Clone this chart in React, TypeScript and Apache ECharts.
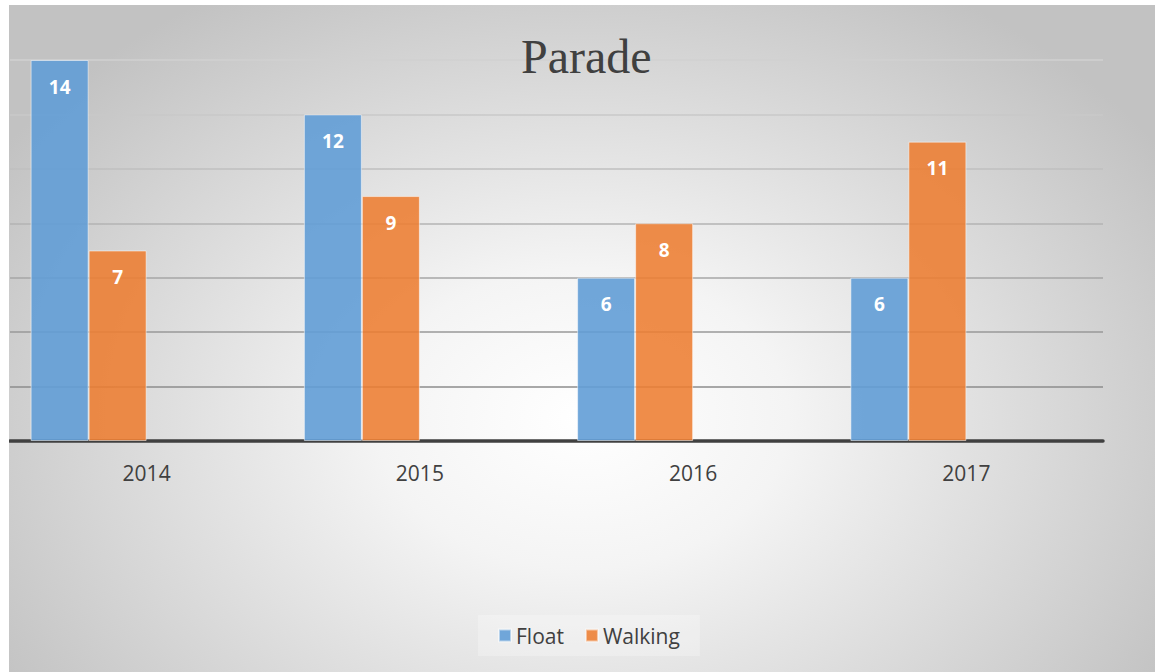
import React, { useEffect, useRef } from "react";
import * as echarts from "echarts";

const categories = ["2014", "2015", "2016", "2017"];
const floatValues = [14, 12, 6, 6];
const walkingValues = [7, 9, 8, 11];
const emptyValues = [null, null, null, null];
const seriesNames = ["Float", "Walking"];
const titleText = "Parade";

export default function App() {
  const ref = useRef<HTMLDivElement>(null);
  useEffect(() => {
    document.body.style.margin = "0";
    const chart = echarts.init(ref.current!, null, { renderer: "svg" });
    const label = {
      show: true,
      position: "insideTop",
      distance: 17,
      color: "#ffffff",
      fontWeight: "bold",
      fontSize: 19,
      fontFamily: "Open Sans",
    };
    chart.setOption({
      animation: false,
      backgroundColor: "transparent",
      title: {
        text: titleText,
        left: 507,
        top: 22,
        padding: 5,
        textStyle: {
          fontFamily: "Liberation Serif",
          fontSize: 48,
          fontWeight: "normal",
          color: "#404040",
        },
      },
      legend: {
        data: seriesNames,
        top: 610,
        left: 469,
        padding: [10, 20],
        backgroundColor: "rgba(255,255,255,0.25)",
        itemWidth: 12,
        itemHeight: 12,
        itemGap: 21,
        icon: "rect",
        textStyle: { fontFamily: "Open Sans", fontSize: 21, color: "#404040" },
      },
      grid: { left: 1, right: 52, top: 55, bottom: 231, containLabel: false },
      xAxis: {
        type: "category",
        data: categories,
        axisLine: { lineStyle: { color: "#404040", width: 3.5 } },
        axisTick: { show: false },
        axisLabel: { color: "#404040", fontSize: 21, fontFamily: "Open Sans", margin: 21 },
      },
      yAxis: {
        type: "value",
        min: 0,
        max: 14,
        interval: 2,
        axisLabel: { show: false },
        axisLine: { show: false },
        axisTick: { show: false },
        splitLine: {
          lineStyle: {
            width: 1.5,
            color: ["#404040", "#8c8c8c", "#999999", "#a6a6a6", "#b3b3b3", "#bfbfbf", "#c9c9c9", "#d0d0d0"],
          },
        },
      },
      series: [
        {
          name: seriesNames[0],
          type: "bar",
          data: floatValues,
          barWidth: 58,
          barGap: "0%",
          itemStyle: { color: "rgba(98,157,214,0.9)", borderColor: "rgba(255,255,255,0.5)", borderWidth: 1 },
          label,
        },
        {
          name: seriesNames[1],
          type: "bar",
          data: walkingValues,
          barWidth: 58,
          barGap: "0%",
          itemStyle: { color: "rgba(237,125,49,0.88)", borderColor: "rgba(255,255,255,0.5)", borderWidth: 1 },
          label,
        },
        { name: "e1", type: "bar", data: emptyValues, barWidth: 58, barGap: "0%" },
        { name: "e2", type: "bar", data: emptyValues, barWidth: 58, barGap: "0%" },
      ],
    });
    return () => chart.dispose();
  }, []);
  return (
    <div
      style={{
        position: "absolute",
        left: 9,
        top: 5,
        width: 1146,
        height: 667,
        background: "radial-gradient(ellipse 60% 75% at 50% 62%, #ffffff 0%, #f4f4f4 30%, #c2c2c2 100%)",
      }}
    >
      <div ref={ref} style={{ width: 1146, height: 667 }} />
    </div>
  );
}
